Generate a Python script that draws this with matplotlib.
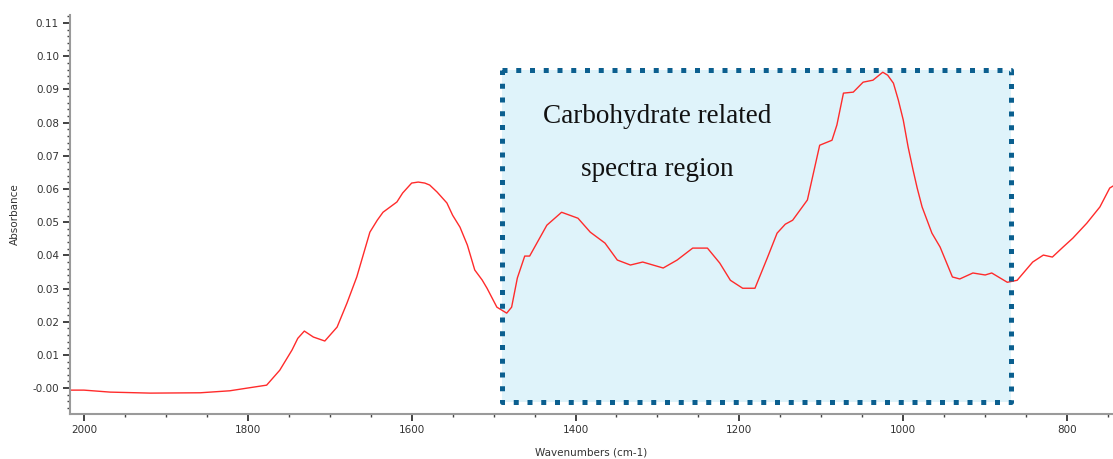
import numpy as np
import matplotlib
matplotlib.use('Agg')
import matplotlib.pyplot as plt
from matplotlib.patches import Rectangle
from matplotlib.ticker import MultipleLocator, FixedLocator, FixedFormatter

# spectrum
wavenumber = [2017, 2000, 1968, 1919, 1858, 1822, 1801, 1777, 1761, 1746, 1739, 1731, 1720, 1706,
              1691, 1679, 1667, 1651, 1642, 1635, 1618, 1611, 1600, 1592, 1584, 1578, 1569, 1557,
              1550, 1541, 1532, 1523, 1514, 1508,
              1496, 1484, 1478, 1471, 1462, 1456, 1435, 1417, 1407, 1397, 1382, 1364, 1349,
              1333, 1318, 1293, 1276, 1257, 1239, 1224, 1211, 1196, 1181, 1166, 1154, 1144,
              1135, 1117, 1102, 1087, 1081, 1073, 1061, 1049, 1037, 1025, 1019, 1012, 1006,
              1000, 994, 988, 983,
              977, 965, 955, 940, 931, 915, 900, 892, 873, 861, 842, 829, 818, 805, 793,
              776, 760, 748, 744]
absorbance = [-0.0006, -0.0006, -0.0012, -0.0015, -0.0014, -0.0008, 0.0000, 0.0009, 0.0054,
              0.0115, 0.0150, 0.0172, 0.0154, 0.0142, 0.0184, 0.0256, 0.0335, 0.0470, 0.0506,
              0.0530, 0.0561, 0.0588, 0.0618, 0.0621, 0.0618, 0.0612, 0.0591, 0.0558, 0.0521,
              0.0485, 0.0431, 0.0356, 0.0326, 0.0301, 0.0244, 0.0226, 0.0244,
              0.0332, 0.0398, 0.0398, 0.0491, 0.0530, 0.0521, 0.0512, 0.0470, 0.0437, 0.0386,
              0.0371, 0.0380, 0.0362, 0.0386, 0.0422, 0.0422, 0.0377, 0.0325, 0.0301, 0.0301,
              0.0392, 0.0467, 0.0494, 0.0506, 0.0567, 0.0732, 0.0747, 0.0793, 0.0889, 0.0892,
              0.0922, 0.0928, 0.0952, 0.0943, 0.0919, 0.0868, 0.0808, 0.0726, 0.0657, 0.0603,
              0.0546, 0.0467, 0.0425, 0.0335,
              0.0329, 0.0347, 0.0341, 0.0347, 0.0319, 0.0325, 0.0380, 0.0401, 0.0395, 0.0425,
              0.0452, 0.0497, 0.0546, 0.0603, 0.0609]

# highlighted region (wavenumber range, absorbance range)
region_x = [1490, 869]
region_y = [-0.0041, 0.0958]
region_text = ['Carbohydrate related', 'spectra region']
text_x = 1300
text_y = [0.0818, 0.0658]

yticks = [0.00, 0.01, 0.02, 0.03, 0.04, 0.05, 0.06, 0.07, 0.08, 0.09, 0.10, 0.11]
ytick_labels = ['-0.00', '0.01', '0.02', '0.03', '0.04', '0.05', '0.06', '0.07', '0.08', '0.09', '0.10', '0.11']
xticks = [2000, 1800, 1600, 1400, 1200, 1000, 800]

fig = plt.figure(figsize=(11.13, 4.59), dpi=100)
ax = fig.add_axes([0.0629, 0.098, 0.9371, 0.869])

# shaded box
ax.add_patch(Rectangle((region_x[1], region_y[0]), region_x[0] - region_x[1], region_y[1] - region_y[0],
                       facecolor='#dff3fa', edgecolor='none', zorder=1))
ax.plot(wavenumber, absorbance, color='#ff2b2b', lw=1.0, zorder=2)
bx = [region_x[0], region_x[1], region_x[1], region_x[0], region_x[0]]
by = [region_y[1], region_y[1], region_y[0], region_y[0], region_y[1]]
ax.plot(bx, by, color='#0b5f8f', lw=3.6, linestyle=(0, (1, 1.75)), solid_capstyle='butt',
        dash_capstyle='butt', zorder=3)

for ty, s in zip(text_y, region_text):
    ax.text(text_x, ty, s, ha='center', va='center', fontsize=19.5,
            family='Liberation Serif', color='#111111', zorder=4)

ax.set_xlim(2017, 744)
ax.set_ylim(-0.0078, 0.1124)

ax.xaxis.set_major_locator(FixedLocator(xticks))
ax.xaxis.set_minor_locator(MultipleLocator(50))
ax.yaxis.set_major_locator(FixedLocator(yticks))
ax.yaxis.set_major_formatter(FixedFormatter(ytick_labels))
ax.yaxis.set_minor_locator(MultipleLocator(0.002))

for s in ['top', 'right']:
    ax.spines[s].set_visible(False)
for s in ['left', 'bottom']:
    ax.spines[s].set_color('#9a9a9a')
    ax.spines[s].set_linewidth(1.5)

ax.tick_params(which='major', length=5, width=1.2, color='#222222', labelsize=7.5,
               labelcolor='#333333', pad=3)
ax.tick_params(which='minor', length=2.5, width=1.0, color='#444444')

ax.set_xlabel('Wavenumbers (cm-1)', fontsize=7.5, color='#333333', labelpad=9)
ax.set_ylabel('Absorbance', fontsize=7.5, color='#333333', labelpad=9)

fig.savefig('out.png', dpi=100)
